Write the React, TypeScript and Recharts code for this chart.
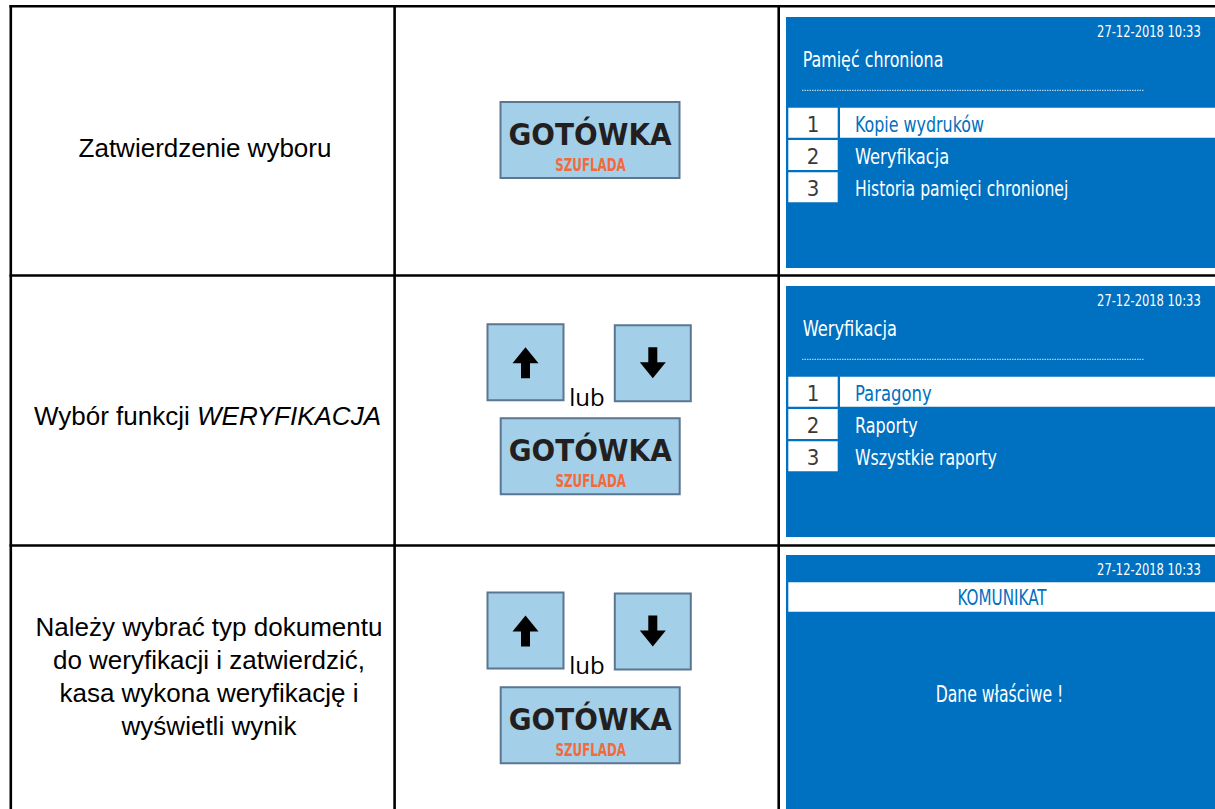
import React from 'react';
import { Surface, Layer, Rectangle, Polygon } from 'recharts';

// ---------- content ----------
const stepLabels: string[][] = [
  ['Zatwierdzenie wyboru'],
  ['Wybór funkcji ', 'WERYFIKACJA'],
  ['Należy wybrać typ dokumentu', 'do weryfikacji i zatwierdzić,', 'kasa wykona weryfikację i', 'wyświetli wynik'],
];
const keyMain = 'GOTÓWKA';
const keySub = 'SZUFLADA';
const orWord = 'lub';
const screenDate = '27-12-2018 10:33';
const screenTitles = ['Pamięć chroniona', 'Weryfikacja'];
const menuNumbers = ['1', '2', '3'];
const menuItemsA = ['Kopie wydruków', 'Weryfikacja', 'Historia pamięci chronionej'];
const menuItemsB = ['Paragony', 'Raporty', 'Wszystkie raporty'];
const selectedIndex = [0, 0];
const messageHeader = 'KOMUNIKAT';
const messageBody = 'Dane właściwe !';

// ---------- layout / style (not data) ----------
const W = 1215;
const H = 809;
const BLACK = '#000';
const LCD_BLUE = '#0070c0';
const KEY_FILL = '#a4cfe8';
const KEY_STROKE = '#5a7691';
const LCD_FONT = "'Liberation Sans Narrow', 'DejaVu Sans Condensed', 'Roboto Condensed', 'Roboto', sans-serif";
const ARIAL = "'Liberation Sans', Arial, sans-serif";

const textWidths: Record<string, number> = {
  'Pamięć chroniona': 140.7,
  'Weryfikacja_title': 94.3,
  'Kopie wydruków': 129,
  'Weryfikacja': 94.3,
  'Historia pamięci chronionej': 213.3,
  'Paragony': 76.7,
  'Raporty': 62.7,
  'Wszystkie raporty': 141.7,
  'KOMUNIKAT': 89,
  'Dane właściwe !': 127.7,
};

const rowBorders = [6.2, 275.5, 545.4];
const colBorders = [10.8, 394.6, 778.7];
const panelTops = [17, 286, 555];
const panelBottoms = [268, 537, 809];
const leftBaselines = [[156.7], [425], [636, 669, 702, 735]];
const leftCenter = 206;

const LcdText = (props: {
  x: number; y: number; text: string; size: number; fill: string; anchor?: 'start' | 'middle' | 'end'; widthKey?: string;
}) => {
  const w = textWidths[props.widthKey ?? props.text];
  return (
    <text
      x={props.x}
      y={props.y}
      fontFamily={LCD_FONT}
      fontSize={props.size}
      fill={props.fill}
      textAnchor={props.anchor ?? 'start'}
      textLength={w}
      lengthAdjust="spacingAndGlyphs"
    >
      {props.text}
    </text>
  );
};

const DateText = ({ y }: { y: number }) => (
  <text
    x={0}
    y={0}
    transform={`translate(1200.7, ${y}) scale(0.8, 1)`}
    textAnchor="end"
    fontFamily={LCD_FONT}
    fontSize={16}
    fill="#fff"
  >
    {screenDate}
  </text>
);

const KeyCash = ({ x, y }: { x: number; y: number }) => (
  <Layer>
    <Rectangle x={x} y={y} width={179} height={76} fill={KEY_FILL} stroke={KEY_STROKE} strokeWidth={2} />
    <text
      x={x + 89.5}
      y={y + 42.5}
      textAnchor="middle"
      fontFamily="'DejaVu Sans', Verdana, sans-serif"
      fontWeight="bold"
      fontSize={30}
      fill="#231f20"
      textLength={163}
      lengthAdjust="spacingAndGlyphs"
    >
      {keyMain}
    </text>
    <text
      x={x + 90}
      y={y + 68.7}
      textAnchor="middle"
      fontFamily={LCD_FONT}
      fontWeight="bold"
      fontSize={17}
      fill="#f26a3c"
      textLength={70.5}
      lengthAdjust="spacingAndGlyphs"
    >
      {keySub}
    </text>
  </Layer>
);

const arrowPoints = (cx: number, cy: number, up: boolean) => {
  const s = up ? 1 : -1;
  const tip = cy - 15.5 * s;
  const base = cy + 0.5 * s;
  const end = cy + 15.5 * s;
  return [
    { x: cx, y: tip },
    { x: cx + 13, y: base },
    { x: cx + 4.5, y: base },
    { x: cx + 4.5, y: end },
    { x: cx - 4.5, y: end },
    { x: cx - 4.5, y: base },
    { x: cx - 13, y: base },
  ];
};

const ArrowKeys = ({ top }: { top: number }) => {
  const upX = 487.5;
  const downX = 614.8;
  const size = 76;
  return (
    <Layer>
      <Rectangle x={upX} y={top} width={size} height={size} fill={KEY_FILL} stroke={KEY_STROKE} strokeWidth={2} />
      <Polygon points={arrowPoints(upX + size / 2, top + size / 2 + 0.5, true)} fill="#000" />
      <Rectangle x={downX} y={top + 1} width={size} height={size} fill={KEY_FILL} stroke={KEY_STROKE} strokeWidth={2} />
      <Polygon points={arrowPoints(downX + size / 2, top + 1 + size / 2 - 0.5, false)} fill="#000" />
      <text x={upX + size + 5.7} y={top + size + 5.7} fontFamily="'Open Sans', sans-serif" fontSize={24} fill="#000">
        {orWord}
      </text>
    </Layer>
  );
};

const MenuScreen = ({ row, title, items, sel, titleKey }: { row: number; title: string; items: string[]; sel: number; titleKey?: string }) => {
  const P = panelTops[row];
  return (
    <Layer>
      <Rectangle x={786} y={P} width={W - 786} height={panelBottoms[row] - P} fill={LCD_BLUE} />
      <DateText y={P + 19.5} />
      <LcdText x={802.7} y={P + 50} text={title} size={21} fill="#fff" widthKey={titleKey} />
      <line x1={802} x2={1144} y1={P + 73.3} y2={P + 73.3} stroke="#fff" strokeWidth={1} strokeDasharray="1.5 1" opacity={0.85} />
      {items.map((it, i) => {
        const top = P + 90.7 + i * 32.3;
        const selected = i === sel;
        return (
          <Layer key={it}>
            <Rectangle x={788.3} y={top} width={49.4} height={30} fill="#fff" />
            {selected && <Rectangle x={840} y={top} width={W - 840} height={30} fill="#fff" />}
            <text x={813} y={top + 24} textAnchor="middle" fontFamily={LCD_FONT} fontSize={22} fill="#3a3a3a">
              {menuNumbers[i]}
            </text>
            <LcdText x={855} y={top + 24} text={it} size={21} fill={selected ? LCD_BLUE : '#fff'} />
          </Layer>
        );
      })}
    </Layer>
  );
};

const MessageScreen = ({ row }: { row: number }) => {
  const P = panelTops[row];
  return (
    <Layer>
      <Rectangle x={786} y={P} width={W - 786} height={panelBottoms[row] - P} fill={LCD_BLUE} />
      <DateText y={P + 20} />
      <Rectangle x={788.3} y={P + 27.3} width={W - 788.3} height={29.4} fill="#fff" />
      <LcdText x={1002} y={P + 50} text={messageHeader} size={21} fill={LCD_BLUE} anchor="middle" />
      <LcdText x={999.5} y={P + 146.7} text={messageBody} size={23} fill="#fff" anchor="middle" />
    </Layer>
  );
};

export default function App() {
  return (
    <div style={{ position: 'fixed', left: 0, top: 0, width: W, height: H, background: '#fff' }}>
      <Surface width={W} height={H} viewBox={{ x: 0, y: 0, width: W, height: H }}>
        <Rectangle x={0} y={0} width={W} height={H} fill="#fff" />

        {/* left column texts */}
        <text x={leftCenter - 1} y={leftBaselines[0][0]} textAnchor="middle" fontFamily={ARIAL} fontSize={26} fill="#000">
          {stepLabels[0][0]}
        </text>
        <text x={leftCenter + 1.5} y={leftBaselines[1][0]} textAnchor="middle" fontFamily={ARIAL} fontSize={26} fill="#000">
          {stepLabels[1][0]}
          <tspan fontStyle="italic">{stepLabels[1][1]}</tspan>
        </text>
        {stepLabels[2].map((line, i) => (
          <text key={line} x={leftCenter + 3} y={leftBaselines[2][i]} textAnchor="middle" fontFamily={ARIAL} fontSize={26} fill="#000">
            {line}
          </text>
        ))}

        {/* middle column keys */}
        <KeyCash x={500.5} y={102} />
        <ArrowKeys top={324.3} />
        <KeyCash x={500.7} y={418.3} />
        <ArrowKeys top={592.5} />
        <KeyCash x={500.7} y={687.3} />

        {/* right column screens */}
        <MenuScreen row={0} title={screenTitles[0]} items={menuItemsA} sel={selectedIndex[0]} />
        <MenuScreen row={1} title={screenTitles[1]} items={menuItemsB} sel={selectedIndex[1]} titleKey="Weryfikacja_title" />
        <MessageScreen row={2} />

        {/* table borders */}
        {rowBorders.map((y) => (
          <Rectangle key={'h' + y} x={colBorders[0] - 1.3} y={y - 1.25} width={W} height={2.5} fill={BLACK} />
        ))}
        {colBorders.map((x) => (
          <Rectangle key={'v' + x} x={x - 1.3} y={rowBorders[0] - 1.25} width={2.6} height={H} fill={BLACK} />
        ))}
      </Surface>
    </div>
  );
}
